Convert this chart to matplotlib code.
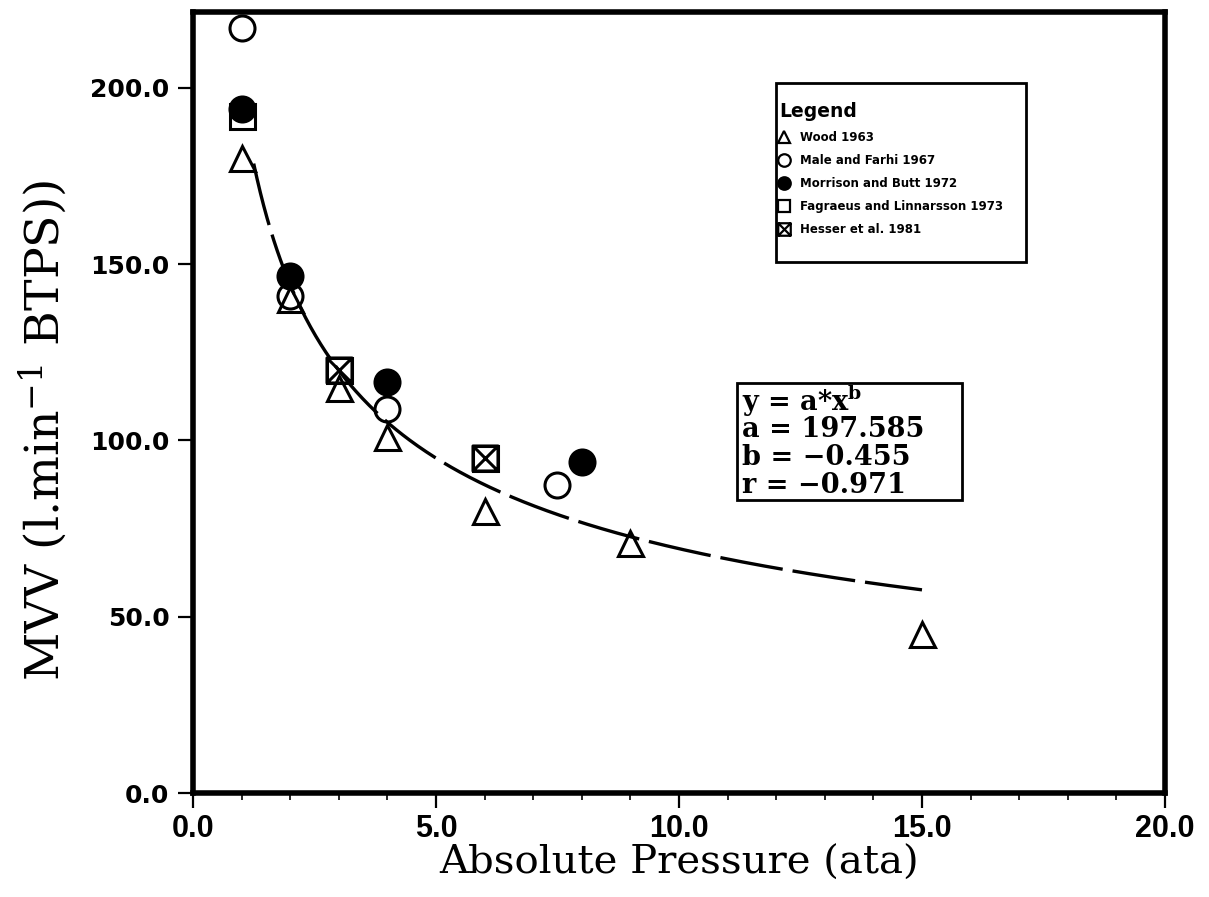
import numpy as np
import matplotlib
matplotlib.use("Agg")
import matplotlib.pyplot as plt
from matplotlib.path import Path
from matplotlib.lines import Line2D
from matplotlib.patches import Rectangle

# ---- data -------------------------------------------------------------
wood_p = [1, 2, 3, 4, 6, 9, 15]
wood_mvv = [180, 140, 115, 101, 80, 71, 45]

male_p = [1, 2, 4, 7.5]
male_mvv = [217, 141, 109, 87.5]

morrison_p = [1, 2, 4, 8]
morrison_mvv = [194, 146.5, 116.5, 94]

fagraeus_p = [1, 3, 6]
fagraeus_mvv = [192, 120, 95]

hesser_p = [3, 6]
hesser_mvv = [120, 95]

series_labels = ["Wood 1963", "Male and Farhi 1967", "Morrison and Butt 1972",
                 "Fagraeus and Linnarsson 1973", "Hesser et al. 1981"]

fit_a = 197.585
fit_b = -0.455
fit_r = -0.971
fit_start, fit_end = 1.25, 15.0

x_ticks = [0.0, 5.0, 10.0, 15.0, 20.0]
y_ticks = [0.0, 50.0, 100.0, 150.0, 200.0]

# ---- styles -----------------------------------------------------------
plt.rcParams["mathtext.fontset"] = "dejavuserif"

# square with both diagonals
box_x = Path([(-1, -1), (1, -1), (1, 1), (-1, 1), (-1, -1),
              (-1, -1), (1, 1), (-1, 1), (1, -1)],
             [Path.MOVETO, Path.LINETO, Path.LINETO, Path.LINETO, Path.CLOSEPOLY,
              Path.MOVETO, Path.LINETO, Path.MOVETO, Path.LINETO])

ms = 18
mew = 2.2
styles = [
    dict(marker="^", mfc="none", mec="black"),
    dict(marker="o", mfc="none", mec="black"),
    dict(marker="o", mfc="black", mec="black"),
    dict(marker="s", mfc="none", mec="black"),
    dict(marker=box_x, mfc="none", mec="black"),
]
series = [(wood_p, wood_mvv), (male_p, male_mvv), (morrison_p, morrison_mvv),
          (fagraeus_p, fagraeus_mvv), (hesser_p, hesser_mvv)]

fig = plt.figure(figsize=(12.09, 8.97), dpi=100)
ax = fig.add_axes([0.1596, 0.1159, 0.8040, 0.8707])

for (xs, ys), st in zip(series, styles):
    ax.plot(xs, ys, linestyle="none", ms=ms, mew=mew, zorder=3, **st)

# power-law fit
xf = np.linspace(fit_start, fit_end, 400)
ax.plot(xf, fit_a * xf ** fit_b, color="black", lw=2.4,
        linestyle=(0, (19, 3)), zorder=2)

ax.set_xlim(0, 20)
ax.set_ylim(0, 221.5)

for sp in ax.spines.values():
    sp.set_linewidth(4)

ax.set_xticks(x_ticks)
ax.set_yticks(y_ticks)
ax.set_xticks(np.arange(0, 21, 1), minor=True)
ax.set_xticklabels([f"{v:.1f}" for v in x_ticks],
                   fontfamily=["Liberation Sans", "DejaVu Sans"],
                   fontweight="bold", fontsize=22)
ax.set_yticklabels([f"{v:.1f}" for v in y_ticks],
                   fontfamily="DejaVu Sans", fontweight="bold", fontsize=18)
ax.tick_params(axis="both", which="major", direction="out", length=11,
               width=1.6, color="black")
ax.tick_params(axis="x", which="major", pad=4)
ax.tick_params(axis="y", which="major", pad=6)
ax.tick_params(axis="x", which="minor", direction="out", length=5, width=1.2)

ax.set_xlabel("Absolute Pressure (ata)", fontfamily="DejaVu Serif",
              fontsize=29, labelpad=1)
ax.set_ylabel(r"MVV (l.min$^{-1}$ BTPS))", fontfamily="DejaVu Serif",
              fontsize=34)
ax.yaxis.set_label_coords(-0.127, 0.465)

# legend: frame drawn as a patch, entries placed inside it
ax.add_patch(Rectangle((12.0, 150.6), 5.15, 50.8, fill=False, lw=2,
                       edgecolor="black", zorder=5))
handles = [Line2D([], [], linestyle="none", ms=9, mew=1.6, **st) for st in styles]
leg = ax.legend(handles, series_labels, title="Legend", loc="upper left",
                bbox_to_anchor=(12.0, 197.0), bbox_transform=ax.transData,
                prop=dict(family="DejaVu Sans", weight="bold", size=8.5),
                title_fontproperties=dict(family="DejaVu Sans", weight="bold",
                                          size=13.5),
                alignment="left", frameon=False, handlelength=0.8,
                handletextpad=0.9, labelspacing=0.85, borderpad=0.3,
                borderaxespad=0)

# fit summary box
eq_lines = [r"y = a*x$^{\mathbf{b}}$",
            f"a = {fit_a:.3f}",
            f"b = \u2212{abs(fit_b):.3f}",
            f"r = \u2212{abs(fit_r):.3f}"]
eq_x, eq_top, eq_step = 11.3, 111.0, 7.9
for i, line in enumerate(eq_lines):
    ax.text(eq_x, eq_top - i * eq_step, line, fontfamily="DejaVu Serif",
            fontweight="bold", fontsize=19.5, va="center", ha="left", zorder=4)
ax.add_patch(Rectangle((11.19, 83.2), 4.63, 33.0, fill=False, lw=2,
                       edgecolor="black", zorder=4))

fig.savefig("out.png", dpi=100, facecolor="white")
